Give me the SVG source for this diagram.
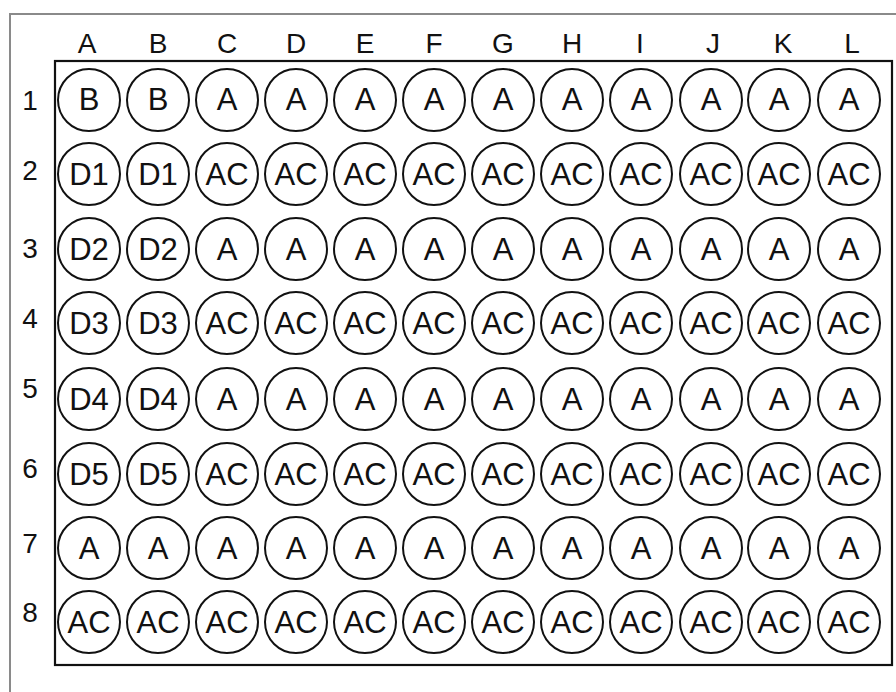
<svg xmlns="http://www.w3.org/2000/svg" width="896" height="692" viewBox="0 0 896 692">
<style>
.frame{fill:none;stroke:#8a8a8a;stroke-width:2}
.plate{fill:none;stroke:#111;stroke-width:2.2}
.well circle{fill:#fff;stroke:#111;stroke-width:2}
.well text{font-family:"Liberation Sans",Arial,sans-serif;font-size:31px;fill:#111;text-anchor:middle}
.hdr{font-family:"Liberation Sans",Arial,sans-serif;font-size:28px;fill:#111;text-anchor:middle}
</style>
<rect width="896" height="692" fill="#fff"/>
<path class="frame" d="M10,692 V14 H896"/>
<rect class="plate" x="55" y="61" width="837" height="604"/>
<g id="col-headers">
<text class="hdr" x="87" y="53">A</text>
<text class="hdr" x="158" y="53">B</text>
<text class="hdr" x="227" y="53">C</text>
<text class="hdr" x="296" y="53">D</text>
<text class="hdr" x="365" y="53">E</text>
<text class="hdr" x="434" y="53">F</text>
<text class="hdr" x="503" y="53">G</text>
<text class="hdr" x="572" y="53">H</text>
<text class="hdr" x="640" y="53">I</text>
<text class="hdr" x="713" y="53">J</text>
<text class="hdr" x="783" y="53">K</text>
<text class="hdr" x="852" y="53">L</text>
</g>
<g id="row-headers">
<text class="hdr" x="30" y="110">1</text>
<text class="hdr" x="30" y="180">2</text>
<text class="hdr" x="30" y="258">3</text>
<text class="hdr" x="30" y="328">4</text>
<text class="hdr" x="30" y="398">5</text>
<text class="hdr" x="30" y="478">6</text>
<text class="hdr" x="30" y="553">7</text>
<text class="hdr" x="30" y="622">8</text>
</g>
<g id="connectors"/>
<g id="row1">
<g id="A1" class="well"><circle cx="89" cy="100" r="31"/><text x="89" y="110">B</text></g>
<g id="B1" class="well"><circle cx="158" cy="100" r="31"/><text x="158" y="110">B</text></g>
<g id="C1" class="well"><circle cx="227" cy="100" r="31"/><text x="227" y="110">A</text></g>
<g id="D1" class="well"><circle cx="296" cy="100" r="31"/><text x="296" y="110">A</text></g>
<g id="E1" class="well"><circle cx="365" cy="100" r="31"/><text x="365" y="110">A</text></g>
<g id="F1" class="well"><circle cx="434" cy="100" r="31"/><text x="434" y="110">A</text></g>
<g id="G1" class="well"><circle cx="503" cy="100" r="31"/><text x="503" y="110">A</text></g>
<g id="H1" class="well"><circle cx="572" cy="100" r="31"/><text x="572" y="110">A</text></g>
<g id="I1" class="well"><circle cx="641" cy="100" r="31"/><text x="641" y="110">A</text></g>
<g id="J1" class="well"><circle cx="711" cy="100" r="31"/><text x="711" y="110">A</text></g>
<g id="K1" class="well"><circle cx="779" cy="100" r="31"/><text x="779" y="110">A</text></g>
<g id="L1" class="well"><circle cx="849" cy="100" r="31"/><text x="849" y="110">A</text></g>
</g>
<g id="row2">
<g id="A2" class="well"><circle cx="89" cy="174" r="31"/><text x="89" y="185">D1</text></g>
<g id="B2" class="well"><circle cx="158" cy="174" r="31"/><text x="158" y="185">D1</text></g>
<g id="C2" class="well"><circle cx="227" cy="174" r="31"/><text x="227" y="185">AC</text></g>
<g id="D2" class="well"><circle cx="296" cy="174" r="31"/><text x="296" y="185">AC</text></g>
<g id="E2" class="well"><circle cx="365" cy="174" r="31"/><text x="365" y="185">AC</text></g>
<g id="F2" class="well"><circle cx="434" cy="174" r="31"/><text x="434" y="185">AC</text></g>
<g id="G2" class="well"><circle cx="503" cy="174" r="31"/><text x="503" y="185">AC</text></g>
<g id="H2" class="well"><circle cx="572" cy="174" r="31"/><text x="572" y="185">AC</text></g>
<g id="I2" class="well"><circle cx="641" cy="174" r="31"/><text x="641" y="185">AC</text></g>
<g id="J2" class="well"><circle cx="711" cy="174" r="31"/><text x="711" y="185">AC</text></g>
<g id="K2" class="well"><circle cx="779" cy="174" r="31"/><text x="779" y="185">AC</text></g>
<g id="L2" class="well"><circle cx="849" cy="174" r="31"/><text x="849" y="185">AC</text></g>
</g>
<g id="row3">
<g id="A3" class="well"><circle cx="89" cy="249" r="31"/><text x="89" y="260">D2</text></g>
<g id="B3" class="well"><circle cx="158" cy="249" r="31"/><text x="158" y="260">D2</text></g>
<g id="C3" class="well"><circle cx="227" cy="249" r="31"/><text x="227" y="260">A</text></g>
<g id="D3" class="well"><circle cx="296" cy="249" r="31"/><text x="296" y="260">A</text></g>
<g id="E3" class="well"><circle cx="365" cy="249" r="31"/><text x="365" y="260">A</text></g>
<g id="F3" class="well"><circle cx="434" cy="249" r="31"/><text x="434" y="260">A</text></g>
<g id="G3" class="well"><circle cx="503" cy="249" r="31"/><text x="503" y="260">A</text></g>
<g id="H3" class="well"><circle cx="572" cy="249" r="31"/><text x="572" y="260">A</text></g>
<g id="I3" class="well"><circle cx="641" cy="249" r="31"/><text x="641" y="260">A</text></g>
<g id="J3" class="well"><circle cx="711" cy="249" r="31"/><text x="711" y="260">A</text></g>
<g id="K3" class="well"><circle cx="779" cy="249" r="31"/><text x="779" y="260">A</text></g>
<g id="L3" class="well"><circle cx="849" cy="249" r="31"/><text x="849" y="260">A</text></g>
</g>
<g id="row4">
<g id="A4" class="well"><circle cx="89" cy="323" r="31"/><text x="89" y="334">D3</text></g>
<g id="B4" class="well"><circle cx="158" cy="323" r="31"/><text x="158" y="334">D3</text></g>
<g id="C4" class="well"><circle cx="227" cy="323" r="31"/><text x="227" y="334">AC</text></g>
<g id="D4" class="well"><circle cx="296" cy="323" r="31"/><text x="296" y="334">AC</text></g>
<g id="E4" class="well"><circle cx="365" cy="323" r="31"/><text x="365" y="334">AC</text></g>
<g id="F4" class="well"><circle cx="434" cy="323" r="31"/><text x="434" y="334">AC</text></g>
<g id="G4" class="well"><circle cx="503" cy="323" r="31"/><text x="503" y="334">AC</text></g>
<g id="H4" class="well"><circle cx="572" cy="323" r="31"/><text x="572" y="334">AC</text></g>
<g id="I4" class="well"><circle cx="641" cy="323" r="31"/><text x="641" y="334">AC</text></g>
<g id="J4" class="well"><circle cx="711" cy="323" r="31"/><text x="711" y="334">AC</text></g>
<g id="K4" class="well"><circle cx="779" cy="323" r="31"/><text x="779" y="334">AC</text></g>
<g id="L4" class="well"><circle cx="849" cy="323" r="31"/><text x="849" y="334">AC</text></g>
</g>
<g id="row5">
<g id="A5" class="well"><circle cx="89" cy="399" r="31"/><text x="89" y="410">D4</text></g>
<g id="B5" class="well"><circle cx="158" cy="399" r="31"/><text x="158" y="410">D4</text></g>
<g id="C5" class="well"><circle cx="227" cy="399" r="31"/><text x="227" y="410">A</text></g>
<g id="D5" class="well"><circle cx="296" cy="399" r="31"/><text x="296" y="410">A</text></g>
<g id="E5" class="well"><circle cx="365" cy="399" r="31"/><text x="365" y="410">A</text></g>
<g id="F5" class="well"><circle cx="434" cy="399" r="31"/><text x="434" y="410">A</text></g>
<g id="G5" class="well"><circle cx="503" cy="399" r="31"/><text x="503" y="410">A</text></g>
<g id="H5" class="well"><circle cx="572" cy="399" r="31"/><text x="572" y="410">A</text></g>
<g id="I5" class="well"><circle cx="641" cy="399" r="31"/><text x="641" y="410">A</text></g>
<g id="J5" class="well"><circle cx="711" cy="399" r="31"/><text x="711" y="410">A</text></g>
<g id="K5" class="well"><circle cx="779" cy="399" r="31"/><text x="779" y="410">A</text></g>
<g id="L5" class="well"><circle cx="849" cy="399" r="31"/><text x="849" y="410">A</text></g>
</g>
<g id="row6">
<g id="A6" class="well"><circle cx="89" cy="474" r="31"/><text x="89" y="485">D5</text></g>
<g id="B6" class="well"><circle cx="158" cy="474" r="31"/><text x="158" y="485">D5</text></g>
<g id="C6" class="well"><circle cx="227" cy="474" r="31"/><text x="227" y="485">AC</text></g>
<g id="D6" class="well"><circle cx="296" cy="474" r="31"/><text x="296" y="485">AC</text></g>
<g id="E6" class="well"><circle cx="365" cy="474" r="31"/><text x="365" y="485">AC</text></g>
<g id="F6" class="well"><circle cx="434" cy="474" r="31"/><text x="434" y="485">AC</text></g>
<g id="G6" class="well"><circle cx="503" cy="474" r="31"/><text x="503" y="485">AC</text></g>
<g id="H6" class="well"><circle cx="572" cy="474" r="31"/><text x="572" y="485">AC</text></g>
<g id="I6" class="well"><circle cx="641" cy="474" r="31"/><text x="641" y="485">AC</text></g>
<g id="J6" class="well"><circle cx="711" cy="474" r="31"/><text x="711" y="485">AC</text></g>
<g id="K6" class="well"><circle cx="779" cy="474" r="31"/><text x="779" y="485">AC</text></g>
<g id="L6" class="well"><circle cx="849" cy="474" r="31"/><text x="849" y="485">AC</text></g>
</g>
<g id="row7">
<g id="A7" class="well"><circle cx="89" cy="548" r="31"/><text x="89" y="559">A</text></g>
<g id="B7" class="well"><circle cx="158" cy="548" r="31"/><text x="158" y="559">A</text></g>
<g id="C7" class="well"><circle cx="227" cy="548" r="31"/><text x="227" y="559">A</text></g>
<g id="D7" class="well"><circle cx="296" cy="548" r="31"/><text x="296" y="559">A</text></g>
<g id="E7" class="well"><circle cx="365" cy="548" r="31"/><text x="365" y="559">A</text></g>
<g id="F7" class="well"><circle cx="434" cy="548" r="31"/><text x="434" y="559">A</text></g>
<g id="G7" class="well"><circle cx="503" cy="548" r="31"/><text x="503" y="559">A</text></g>
<g id="H7" class="well"><circle cx="572" cy="548" r="31"/><text x="572" y="559">A</text></g>
<g id="I7" class="well"><circle cx="641" cy="548" r="31"/><text x="641" y="559">A</text></g>
<g id="J7" class="well"><circle cx="711" cy="548" r="31"/><text x="711" y="559">A</text></g>
<g id="K7" class="well"><circle cx="779" cy="548" r="31"/><text x="779" y="559">A</text></g>
<g id="L7" class="well"><circle cx="849" cy="548" r="31"/><text x="849" y="559">A</text></g>
</g>
<g id="row8">
<g id="A8" class="well"><circle cx="89" cy="622" r="31"/><text x="89" y="633">AC</text></g>
<g id="B8" class="well"><circle cx="158" cy="622" r="31"/><text x="158" y="633">AC</text></g>
<g id="C8" class="well"><circle cx="227" cy="622" r="31"/><text x="227" y="633">AC</text></g>
<g id="D8" class="well"><circle cx="296" cy="622" r="31"/><text x="296" y="633">AC</text></g>
<g id="E8" class="well"><circle cx="365" cy="622" r="31"/><text x="365" y="633">AC</text></g>
<g id="F8" class="well"><circle cx="434" cy="622" r="31"/><text x="434" y="633">AC</text></g>
<g id="G8" class="well"><circle cx="503" cy="622" r="31"/><text x="503" y="633">AC</text></g>
<g id="H8" class="well"><circle cx="572" cy="622" r="31"/><text x="572" y="633">AC</text></g>
<g id="I8" class="well"><circle cx="641" cy="622" r="31"/><text x="641" y="633">AC</text></g>
<g id="J8" class="well"><circle cx="711" cy="622" r="31"/><text x="711" y="633">AC</text></g>
<g id="K8" class="well"><circle cx="779" cy="622" r="31"/><text x="779" y="633">AC</text></g>
<g id="L8" class="well"><circle cx="849" cy="622" r="31"/><text x="849" y="633">AC</text></g>
</g>
</svg>
